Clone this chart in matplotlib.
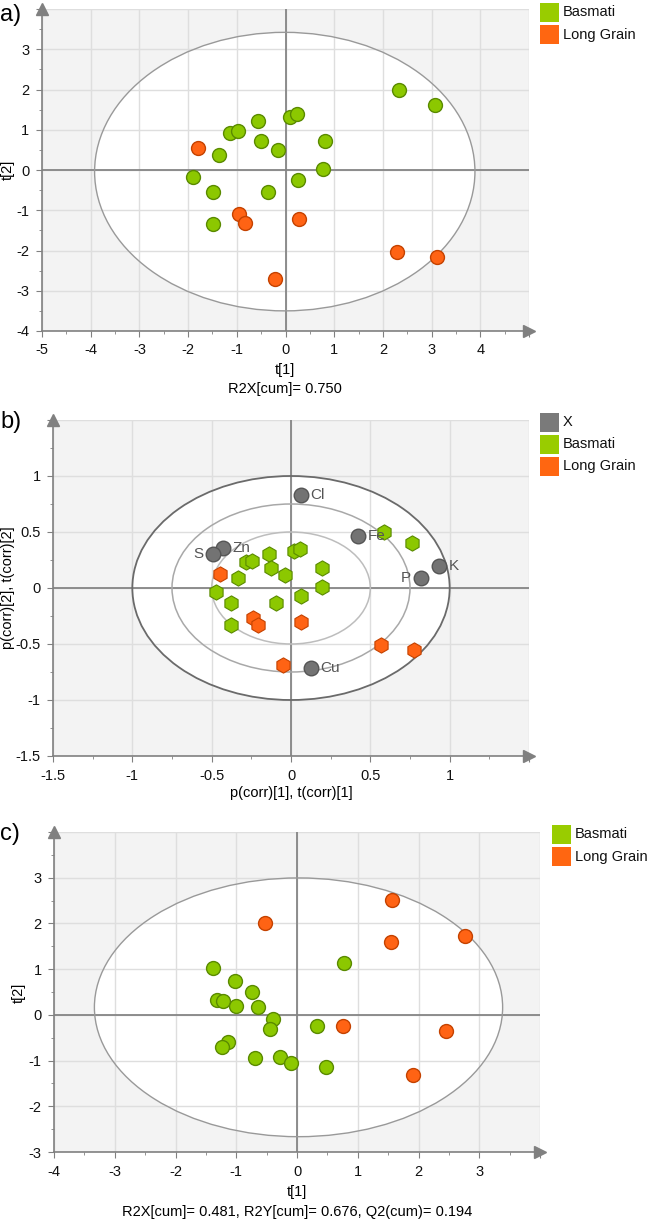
import matplotlib
matplotlib.use("Agg")
import matplotlib.pyplot as plt
from matplotlib.patches import Ellipse
from matplotlib.ticker import MultipleLocator, FuncFormatter

plt.rcParams['font.family'] = ['Liberation Sans', 'DejaVu Sans']
plt.rcParams['axes.unicode_minus'] = False

# panel a) PCA scores
a_basmati_x = [2.33, 3.07, -0.57, 0.09, 0.23, -1.14, -0.97, -0.50, -0.16, 0.81, -1.36, 0.76, -1.89, -1.49, -0.35, 0.25, -1.49]
a_basmati_y = [2.00, 1.61, 1.21, 1.31, 1.40, 0.92, 0.96, 0.72, 0.49, 0.72, 0.38, 0.02, -0.17, -0.55, -0.55, -0.25, -1.35]
a_long_x = [-1.79, -0.96, -0.84, 0.28, -0.21, 2.29, 3.12]
a_long_y = [0.55, -1.09, -1.32, -1.21, -2.72, -2.03, -2.17]

# panel b) biplot
b_var_names = ["Cl", "Fe", "Zn", "S", "K", "P", "Cu"]
b_var_x = [0.063, 0.425, -0.431, -0.490, 0.930, 0.819, 0.124]
b_var_y = [0.833, 0.461, 0.360, 0.304, 0.196, 0.089, -0.717]
b_basmati_x = [0.584, 0.763, -0.139, 0.017, 0.057, -0.283, -0.244, -0.126, -0.037, 0.198, -0.336, 0.194, -0.475, -0.377, -0.092, 0.061, -0.377]
b_basmati_y = [0.500, 0.405, 0.307, 0.327, 0.345, 0.229, 0.241, 0.182, 0.119, 0.179, 0.089, 0.012, -0.039, -0.137, -0.137, -0.068, -0.333]
b_long_x = [-0.449, -0.240, -0.209, 0.065, -0.052, 0.566, 0.778]
b_long_y = [0.128, -0.268, -0.333, -0.307, -0.685, -0.509, -0.551]

# panel c) PLS-DA scores
c_basmati_x = [0.78, -1.38, -1.02, -0.74, -1.31, -1.22, -1.01, -0.64, -0.39, -0.44, 0.33, -1.14, -1.23, -0.69, -0.28, -0.10, 0.48]
c_basmati_y = [1.14, 1.03, 0.73, 0.49, 0.33, 0.31, 0.19, 0.18, -0.10, -0.32, -0.25, -0.60, -0.71, -0.94, -0.92, -1.05, -1.15]
c_long_x = [1.56, -0.52, 1.55, 2.77, 0.76, 2.46, 1.91]
c_long_y = [2.52, 2.01, 1.60, 1.72, -0.25, -0.36, -1.32]

GREEN = "#8cc800"
GREEN_EDGE = "#5a8a00"
ORANGE = "#ff6314"
ORANGE_EDGE = "#c44200"
GREY = "#737373"
GREY_EDGE = "#555555"

W, H = 647, 1220
fig = plt.figure(figsize=(W / 100, H / 100), dpi=100)


def box(left, top, right, bottom):
    return [left / W, 1 - bottom / H, (right - left) / W, (bottom - top) / H]


def make_fmt(upper):
    # the top/right end of each axis has no label in the original
    def f(v, p):
        if abs(v - upper) < 1e-6:
            return ""
        return "{:g}".format(round(v, 3))
    return FuncFormatter(f)


def style(ax, xlim, ylim, major, minor):
    ax.set_xlim(*xlim)
    ax.set_ylim(*ylim)
    ax.set_facecolor("#f3f3f3")
    ax.set_axisbelow(True)
    ax.xaxis.set_major_formatter(make_fmt(xlim[1]))
    ax.yaxis.set_major_formatter(make_fmt(ylim[1]))
    ax.xaxis.set_major_locator(MultipleLocator(major))
    ax.yaxis.set_major_locator(MultipleLocator(major))
    ax.xaxis.set_minor_locator(MultipleLocator(minor))
    ax.yaxis.set_minor_locator(MultipleLocator(minor))
    ax.grid(True, which="major", color="#dedede", lw=1)
    for s in ["top", "right"]:
        ax.spines[s].set_visible(False)
    for s in ["left", "bottom"]:
        ax.spines[s].set_color("#808080")
        ax.spines[s].set_linewidth(1.2)
    ax.tick_params(which="major", length=4, color="#808080", labelsize=10.5, labelcolor="#111111")
    ax.tick_params(axis="x", which="major", pad=5)
    ax.tick_params(axis="y", which="major", pad=5)
    ax.tick_params(which="minor", length=2.5, color="#808080")
    ax.axhline(0, color="#858585", lw=1.3, zorder=1.5)
    ax.axvline(0, color="#858585", lw=1.3, zorder=1.5)
    ax.plot(1, 0, ">", transform=ax.transAxes, clip_on=False, color="#808080", ms=8, zorder=5)
    ax.plot(0, 1, "^", transform=ax.transAxes, clip_on=False, color="#808080", ms=8, zorder=5)


def ellipse(ax, cx, cy, w, h, fill=True, color="#999999", lw=1.0):
    if fill:
        ax.add_patch(Ellipse((cx, cy), w, h, facecolor="white", edgecolor="none", zorder=0.2))
    ax.add_patch(Ellipse((cx, cy), w, h, facecolor="none", edgecolor=color, lw=lw, zorder=1.8))


def legend(items, x0, y0, size, step):
    for i, (lab, col) in enumerate(items):
        top = y0 + i * step
        fig.patches.append(plt.Rectangle((x0 / W, 1 - (top + size) / H), size / W, size / H,
                                         transform=fig.transFigure, facecolor=col, edgecolor="none"))
        fig.text((x0 + size + 4) / W, 1 - (top + size / 2) / H, lab, fontsize=10.5,
                 va="center", ha="left", color="#111111")


def ftext(x, y, s, **kw):
    fig.text(x / W, 1 - y / H, s, **kw)


# ---- a)
ax1 = fig.add_axes(box(42, 9, 529, 331))
style(ax1, (-5, 5), (-4, 4), 1, 0.5)
ellipse(ax1, -0.015, -0.04, 7.81, 6.92)
ax1.scatter(a_basmati_x, a_basmati_y, s=100, c=GREEN, edgecolors=GREEN_EDGE, linewidths=1, zorder=3)
ax1.scatter(a_long_x, a_long_y, s=100, c=ORANGE, edgecolors=ORANGE_EDGE, linewidths=1, zorder=3)
legend([("Basmati", "#99cc00"), ("Long Grain", "#ff6611")], 540, 3, 19, 22)
ftext(0, 15, "a)", fontsize=17, va="center", ha="left")
ftext(285, 370, "t[1]", fontsize=10.5, ha="center", va="center")
ftext(285, 389, "R2X[cum]= 0.750", fontsize=10.5, ha="center", va="center")
ftext(8, 170, "t[2]", fontsize=10.5, ha="center", va="center", rotation=90)

# ---- b)
ax2 = fig.add_axes(box(53, 420, 529, 756))
style(ax2, (-1.5, 1.5), (-1.5, 1.5), 0.5, 0.25)
ax2.add_patch(Ellipse((0, 0), 2, 2, facecolor="white", edgecolor="none", zorder=0.2))
ellipse(ax2, 0, 0, 2, 2, fill=False, color="#6a6a6a", lw=1.3)
ellipse(ax2, 0, 0, 1.5, 1.5, fill=False, color="#a8a8a8", lw=1.1)
ellipse(ax2, 0, 0, 1.0, 1.0, fill=False, color="#bdbdbd", lw=1.1)
ax2.scatter(b_var_x, b_var_y, s=110, c=GREY, edgecolors=GREY_EDGE, linewidths=1, zorder=3)
ax2.scatter(b_basmati_x, b_basmati_y, s=120, marker="h", c=GREEN, edgecolors=GREEN_EDGE, linewidths=0.8, zorder=4)
ax2.scatter(b_long_x, b_long_y, s=120, marker="h", c=ORANGE, edgecolors=ORANGE_EDGE, linewidths=0.8, zorder=4)
for name, vx, vy in zip(b_var_names, b_var_x, b_var_y):
    if name in ("S", "P"):
        ax2.annotate(name, (vx, vy), xytext=(-7, 0), textcoords="offset points", ha="right",
                     va="center", fontsize=11, color="#555555", zorder=5)
    else:
        ax2.annotate(name, (vx, vy), xytext=(7, 0), textcoords="offset points", ha="left",
                     va="center", fontsize=11, color="#555555", zorder=5)
legend([("X", "#7a7a7a"), ("Basmati", "#99cc00"), ("Long Grain", "#ff6611")], 540, 413, 19, 21.8)
ftext(0, 422, "b)", fontsize=17, va="center", ha="left")
ftext(291, 793, "p(corr)[1], t(corr)[1]", fontsize=10.5, ha="center", va="center")
ftext(8, 588, "p(corr)[2], t(corr)[2]", fontsize=10.5, ha="center", va="center", rotation=90)

# ---- c)
ax3 = fig.add_axes(box(54, 832, 540, 1152))
style(ax3, (-4, 4), (-3, 4), 1, 0.5)
ellipse(ax3, 0.025, 0.165, 6.72, 5.66)
ax3.scatter(c_basmati_x, c_basmati_y, s=100, c=GREEN, edgecolors=GREEN_EDGE, linewidths=1, zorder=3)
ax3.scatter(c_long_x, c_long_y, s=100, c=ORANGE, edgecolors=ORANGE_EDGE, linewidths=1, zorder=3)
legend([("Basmati", "#99cc00"), ("Long Grain", "#ff6611")], 552, 825, 19, 22)
ftext(0, 834, "c)", fontsize=17, va="center", ha="left")
ftext(297, 1192, "t[1]", fontsize=10.5, ha="center", va="center")
ftext(297, 1212, "R2X[cum]= 0.481, R2Y[cum]= 0.676, Q2(cum)= 0.194", fontsize=10.5, ha="center", va="center")
ftext(19, 993, "t[2]", fontsize=10.5, ha="center", va="center", rotation=90)

fig.savefig("out.png", dpi=100)
